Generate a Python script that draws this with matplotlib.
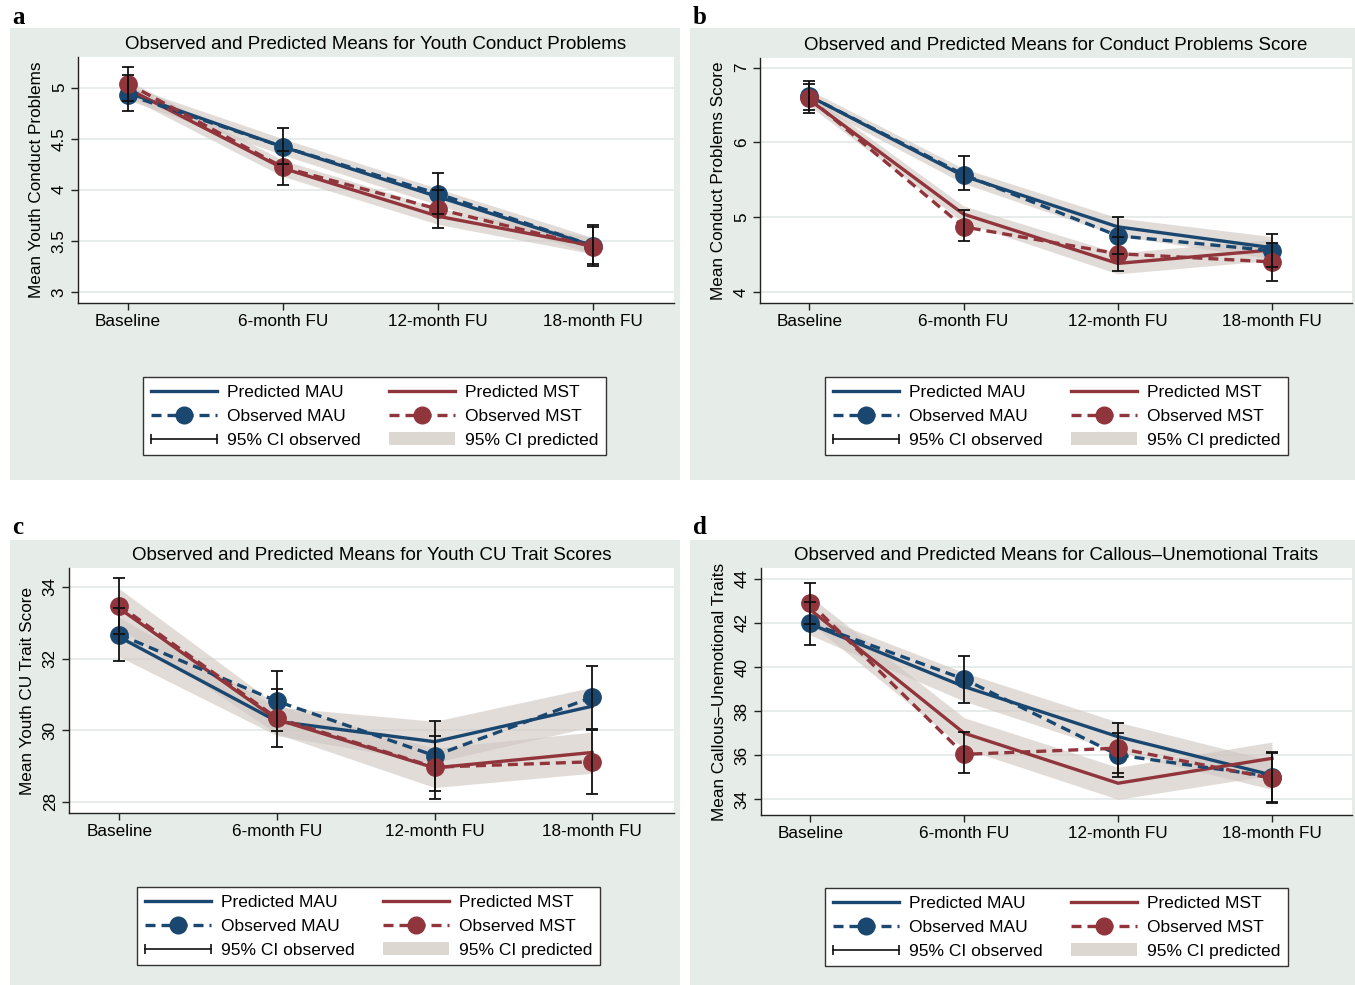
import numpy as np
import matplotlib
matplotlib.use("Agg")
import matplotlib.pyplot as plt
from matplotlib.patches import Rectangle, Patch
from matplotlib.lines import Line2D
from matplotlib.legend_handler import HandlerLine2D

plt.rcParams["font.family"] = ["Liberation Sans", "DejaVu Sans"]

# ---------------------------
# data
# ---------------------------
time_labels = ["Baseline", "6-month FU", "12-month FU", "18-month FU"]

# a: youth conduct problems
a_obs_mau = [4.93, 4.42, 3.96, 3.45]
a_obs_mau_lo = [4.77, 4.25, 3.76, 3.27]
a_obs_mau_hi = [5.12, 4.60, 4.16, 3.63]
a_obs_mst = [5.04, 4.22, 3.81, 3.44]
a_obs_mst_lo = [4.87, 4.05, 3.62, 3.25]
a_obs_mst_hi = [5.20, 4.38, 4.00, 3.65]
a_pred_mau = [4.95, 4.42, 3.93, 3.45]
a_pred_mau_lo = [4.88, 4.34, 3.85, 3.37]
a_pred_mau_hi = [5.02, 4.50, 4.01, 3.53]
a_pred_mst = [4.99, 4.21, 3.74, 3.45]
a_pred_mst_lo = [4.91, 4.13, 3.66, 3.37]
a_pred_mst_hi = [5.07, 4.29, 3.82, 3.53]

# b: conduct problems score
b_obs_mau = [6.62, 5.57, 4.75, 4.55]
b_obs_mau_lo = [6.43, 5.36, 4.50, 4.33]
b_obs_mau_hi = [6.82, 5.82, 5.00, 4.78]
b_obs_mst = [6.59, 4.87, 4.51, 4.40]
b_obs_mst_lo = [6.40, 4.68, 4.28, 4.15]
b_obs_mst_hi = [6.78, 5.09, 4.74, 4.65]
b_pred_mau = [6.62, 5.55, 4.87, 4.59]
b_pred_mau_lo = [6.54, 5.45, 4.75, 4.44]
b_pred_mau_hi = [6.70, 5.65, 4.99, 4.74]
b_pred_mst = [6.57, 5.04, 4.38, 4.56]
b_pred_mst_lo = [6.49, 4.93, 4.24, 4.42]
b_pred_mst_hi = [6.65, 5.15, 4.52, 4.70]

# c: youth CU trait scores
c_obs_mau = [32.67, 30.81, 29.29, 30.92]
c_obs_mau_lo = [31.92, 29.97, 28.30, 30.04]
c_obs_mau_hi = [33.40, 31.65, 30.25, 31.80]
c_obs_mst = [33.48, 30.34, 28.97, 29.12]
c_obs_mst_lo = [32.70, 29.53, 28.08, 28.22]
c_obs_mst_hi = [34.25, 31.15, 29.85, 30.02]
c_pred_mau = [32.60, 30.25, 29.68, 30.67]
c_pred_mau_lo = [32.05, 29.85, 29.10, 30.10]
c_pred_mau_hi = [33.15, 30.65, 30.25, 31.20]
c_pred_mst = [33.40, 30.30, 28.95, 29.38]
c_pred_mst_lo = [32.85, 29.90, 28.40, 28.80]
c_pred_mst_hi = [33.95, 30.70, 29.50, 29.95]

# d: callous-unemotional traits
d_obs_mau = [41.99, 39.45, 36.01, 35.03]
d_obs_mau_lo = [41.00, 38.36, 35.03, 33.90]
d_obs_mau_hi = [42.95, 40.52, 37.00, 36.16]
d_obs_mst = [42.90, 36.04, 36.32, 34.95]
d_obs_mst_lo = [41.95, 35.18, 35.18, 33.82]
d_obs_mst_hi = [43.83, 37.07, 37.45, 36.10]
d_pred_mau = [41.95, 39.11, 36.84, 35.10]
d_pred_mau_lo = [41.45, 38.45, 36.15, 34.45]
d_pred_mau_hi = [42.45, 39.75, 37.50, 35.75]
d_pred_mst = [42.60, 37.00, 34.73, 35.86]
d_pred_mst_lo = [42.00, 36.30, 34.00, 35.10]
d_pred_mst_hi = [43.20, 37.70, 35.45, 36.60]

titles = [
    "Observed and Predicted Means for Youth Conduct Problems",
    "Observed and Predicted Means for Conduct Problems Score",
    "Observed and Predicted Means for Youth CU Trait Scores",
    "Observed and Predicted Means for Callous\u2013Unemotional Traits",
]
ylabels = [
    "Mean Youth Conduct Problems",
    "Mean Conduct Problems Score",
    "Mean Youth CU Trait Score",
    "Mean Callous\u2013Unemotional Traits",
]
yticks = [
    [3, 3.5, 4, 4.5, 5],
    [4, 5, 6, 7],
    [28, 30, 32, 34],
    [34, 36, 38, 40, 42, 44],
]
ytick_labels = [
    ["3", "3.5", "4", "4.5", "5"],
    ["4", "5", "6", "7"],
    ["28", "30", "32", "34"],
    ["34", "36", "38", "40", "42", "44"],
]
ylims = [(2.89, 5.30), (3.85, 7.13), (27.69, 34.53), (33.29, 44.49)]
panel_letters = ["a", "b", "c", "d"]

# ---------------------------
# layout (pixels)
# ---------------------------
W, H = 1355, 985
NAVY = "#1a476f"
MAROON = "#90353b"
BG = "#e6ece8"
BAND = "#cfc6c0"


def fig_rect(l, t, r, b):
    return [l / W, 1 - b / H, (r - l) / W, (b - t) / H]


fig = plt.figure(figsize=(W / 100, H / 100), dpi=100)
fig.patch.set_facecolor("white")

bg_boxes = [(10, 28, 680, 480), (690, 28, 1355, 480),
            (10, 540, 680, 985), (690, 540, 1355, 985)]
ax_boxes = [(78, 57, 674, 303), (760, 58, 1352, 303),
            (69, 568, 674, 813), (761, 568, 1352, 815)]
leg_pos = [(143, 377), (825, 377), (137, 887), (825, 888)]
letter_pos = [(12, 17), (693, 17), (12, 527), (693, 527)]

panels = [
    (a_obs_mau, a_obs_mau_lo, a_obs_mau_hi, a_obs_mst, a_obs_mst_lo, a_obs_mst_hi,
     a_pred_mau, a_pred_mau_lo, a_pred_mau_hi, a_pred_mst, a_pred_mst_lo, a_pred_mst_hi),
    (b_obs_mau, b_obs_mau_lo, b_obs_mau_hi, b_obs_mst, b_obs_mst_lo, b_obs_mst_hi,
     b_pred_mau, b_pred_mau_lo, b_pred_mau_hi, b_pred_mst, b_pred_mst_lo, b_pred_mst_hi),
    (c_obs_mau, c_obs_mau_lo, c_obs_mau_hi, c_obs_mst, c_obs_mst_lo, c_obs_mst_hi,
     c_pred_mau, c_pred_mau_lo, c_pred_mau_hi, c_pred_mst, c_pred_mst_lo, c_pred_mst_hi),
    (d_obs_mau, d_obs_mau_lo, d_obs_mau_hi, d_obs_mst, d_obs_mst_lo, d_obs_mst_hi,
     d_pred_mau, d_pred_mau_lo, d_pred_mau_hi, d_pred_mst, d_pred_mst_lo, d_pred_mst_hi),
]

x = np.arange(len(time_labels))

for i, data in enumerate(panels):
    (om, om_lo, om_hi, os_, os_lo, os_hi,
     pm, pm_lo, pm_hi, ps, ps_lo, ps_hi) = [np.array(v) for v in data]

    l, t, r, b = bg_boxes[i]
    fig.patches.append(Rectangle((l / W, 1 - b / H), (r - l) / W, (b - t) / H,
                                 transform=fig.transFigure, facecolor=BG,
                                 edgecolor="none", zorder=-10))
    lx, ly = letter_pos[i]
    fig.text(lx / W, 1 - ly / H, panel_letters[i], fontsize=18, fontweight="bold",
             family="Liberation Serif", ha="left", va="center")

    ax = fig.add_axes(fig_rect(*ax_boxes[i]))
    ax.set_zorder(1)
    ax.set_facecolor("white")

    # predicted CI bands
    ax.fill_between(x, pm_lo, pm_hi, color=BAND, alpha=0.6, lw=0, zorder=1)
    ax.fill_between(x, ps_lo, ps_hi, color=BAND, alpha=0.6, lw=0, zorder=1)

    # predicted lines
    ax.plot(x, pm, color=NAVY, lw=2.4, zorder=3)
    ax.plot(x, ps, color=MAROON, lw=2.4, zorder=3)

    # observed lines + markers
    ax.plot(x, om, color=NAVY, lw=2.4, ls=(0, (3, 1.8)), marker="o", ms=12.5, zorder=4)
    ax.plot(x, os_, color=MAROON, lw=2.4, ls=(0, (3, 1.8)), marker="o", ms=12.5, zorder=4)

    # observed CI
    ax.errorbar(x, om, yerr=[om - om_lo, om_hi - om], fmt="none", ecolor="#111111",
                elinewidth=1.3, capsize=4, capthick=1.3, zorder=5)
    ax.errorbar(x, os_, yerr=[os_ - os_lo, os_hi - os_], fmt="none", ecolor="#111111",
                elinewidth=1.3, capsize=4, capthick=1.3, zorder=5)

    ax.set_xlim(-0.32, 3.52)
    ax.set_ylim(*ylims[i])
    ax.set_xticks(x)
    ax.set_xticklabels(time_labels, fontsize=12.3)
    ax.set_yticks(yticks[i])
    ax.set_yticklabels(ytick_labels[i], fontsize=12.3, rotation=90, va="center")
    ax.yaxis.grid(True, color="#e3e8e5", lw=1.2)
    ax.set_axisbelow(True)
    for s in ["top", "right"]:
        ax.spines[s].set_visible(False)
    for s in ["left", "bottom"]:
        ax.spines[s].set_color("#222222")
        ax.spines[s].set_linewidth(1.0)
    ax.tick_params(length=5, width=1.0, color="#222222", pad=3)
    ax.set_ylabel(ylabels[i], fontsize=12.3, labelpad=6)
    ax.set_title(titles[i], fontsize=13.5, pad=6)

    # legend
    h_pm = Line2D([], [], color=NAVY, lw=2.4)
    h_om = Line2D([], [], color=NAVY, lw=2.4, ls=(0, (3, 1.8)), marker="o", ms=12)
    h_ci = Line2D([], [], color="#111111", lw=1.2, marker="|", ms=7, mew=1.2)
    h_ps = Line2D([], [], color=MAROON, lw=2.4)
    h_os = Line2D([], [], color=MAROON, lw=2.4, ls=(0, (3, 1.8)), marker="o", ms=12)
    h_band = Patch(facecolor="#ddd7d2", edgecolor="none")
    gx, gy = leg_pos[i]
    leg = fig.legend([h_pm, h_om, h_ci, h_ps, h_os, h_band],
                     ["Predicted MAU", "Observed MAU", "95% CI observed",
                      "Predicted MST", "Observed MST", "95% CI predicted"],
                     ncol=2, loc="upper left", bbox_to_anchor=(gx / W, 1 - gy / H),
                     fontsize=12.5, handlelength=3.8, handletextpad=0.6,
                     columnspacing=1.6, labelspacing=0.5, borderpad=0.45,
                     borderaxespad=0, fancybox=False, framealpha=1,
                     handler_map={h_ci: HandlerLine2D(numpoints=2, marker_pad=0)})
    leg.get_frame().set_edgecolor("#333333")
    leg.get_frame().set_linewidth(1.0)

fig.savefig("out.png", dpi=100, facecolor="white")
